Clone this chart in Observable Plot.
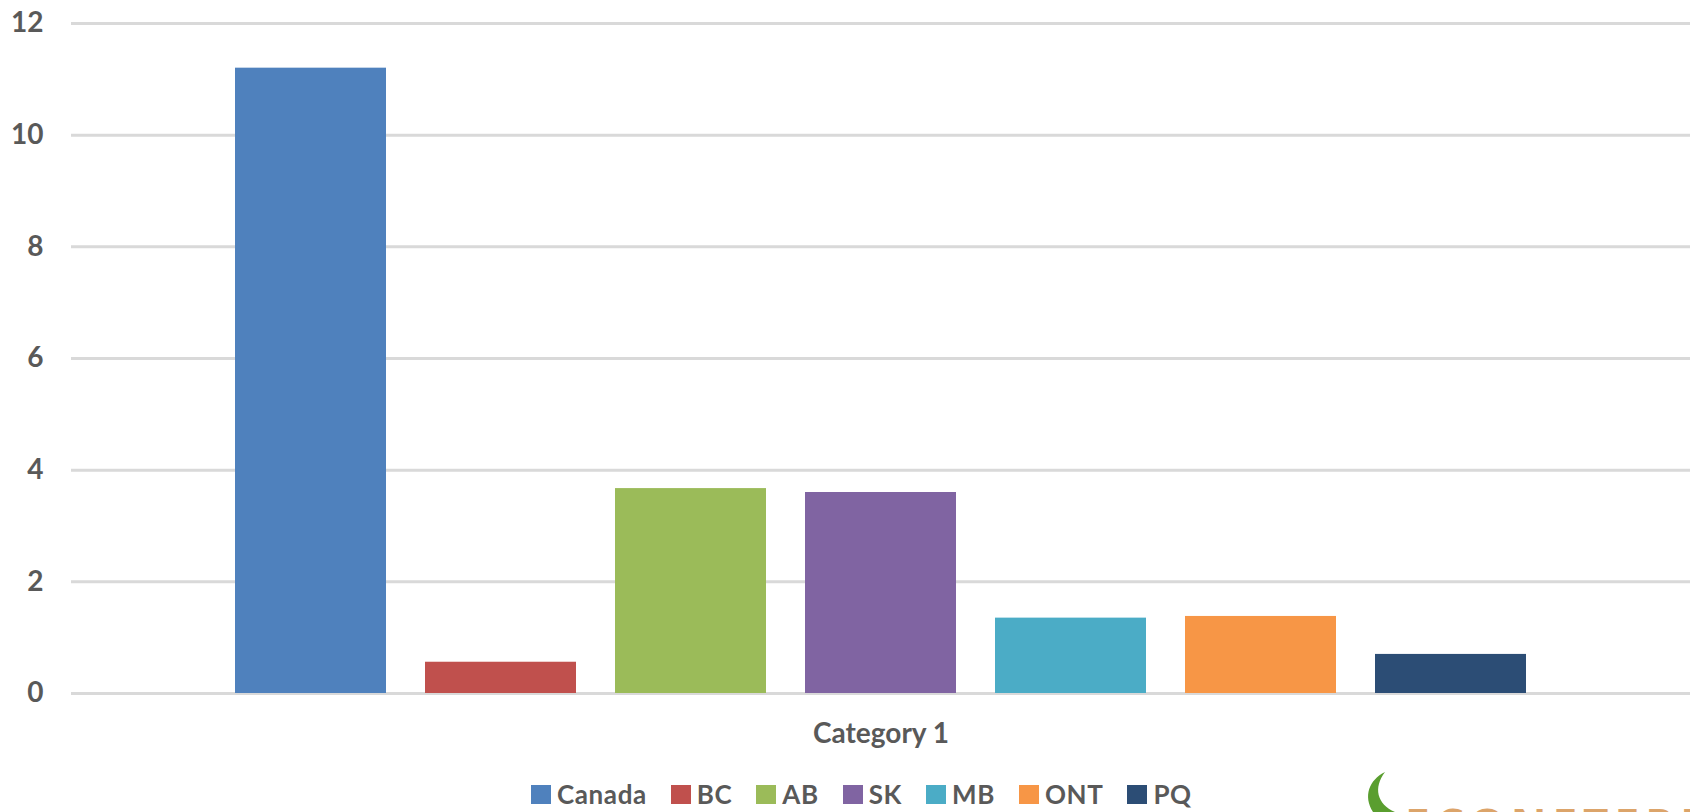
<!DOCTYPE html>
<html>
<head>
<meta charset="utf-8">
<script src="https://cdn.jsdelivr.net/npm/d3@7"></script>
<script src="https://cdn.jsdelivr.net/npm/@observablehq/plot@0.6"></script>
<style>
  html, body { margin: 0; padding: 0; background: #ffffff; width: 1690px; height: 812px; overflow: hidden; }
  #wrap { position: relative; width: 1690px; height: 812px; }
  #legend { position: absolute; left: 531px; top: 777px; display: flex; align-items: center; font-family: Lato, sans-serif; font-weight: bold; font-size: 26px; line-height: 34px; letter-spacing: 0.6px; color: #595959; }
  .item { display: flex; align-items: center; margin-right: 24px; }
  .sw { width: 20px; height: 19px; margin-right: 6px; }
  #logo { position: absolute; left: 1355px; top: 770px; }
  #logotext { position: absolute; left: 1405px; top: 802px; font-family: "Open Sans", sans-serif; font-weight: bold; font-size: 44px; line-height: 44px; color: #dca46a; letter-spacing: 6px; white-space: nowrap; }
</style>
</head>
<body>
<div id="wrap">
  <div id="chart"></div>
  <div id="legend"></div>
  <svg id="logo" width="60" height="42" viewBox="0 0 60 42">
    <path d="M30 2 C14 10 8 26 18 42 L40 42 C22 34 18 18 30 2 Z" fill="#5a9e2f"/>
  </svg>
  <div id="logotext">ECONETERRA</div>
</div>
<script>
const categories = ["Category 1"];
const series = ["Canada", "BC", "AB", "SK", "MB", "ONT", "PQ"];
const values = [11.2, 0.56, 3.67, 3.6, 1.35, 1.38, 0.7];
const colors = ["#4f81bd", "#c0504d", "#9bbb59", "#8064a2", "#4bacc6", "#f79646", "#2c4d75"];
const yTicks = [0, 2, 4, 6, 8, 10, 12];

const data = series.map((s, i) => ({category: categories[0], series: s, value: values[i]}));

const chart = Plot.plot({
  width: 1690,
  height: 770,
  marginLeft: 71,
  marginRight: 0,
  marginTop: 23,
  marginBottom: 77,
  style: "font-family: Lato, sans-serif; font-weight: bold; font-size: 28px; color: #595959; background: #ffffff; overflow: visible;",
  fx: {domain: categories, padding: 0, axis: "bottom", label: null, tickSize: 0, tickPadding: 30},
  x: {domain: series, padding: 0.205, insetLeft: 125, insetRight: 125, axis: null},
  y: {domain: [0, 12], ticks: yTicks, label: null, tickSize: 0, tickPadding: 28},
  color: {domain: series, range: colors},
  marks: [
    Plot.ruleY(yTicks, {stroke: "#d9d9d9", strokeWidth: 3}),
    Plot.barY(data, {fx: "category", x: "series", y: "value", fill: "series"})
  ]
});
document.getElementById("chart").appendChild(chart);

const legend = document.getElementById("legend");
series.forEach((s, i) => {
  const item = document.createElement("div");
  item.className = "item";
  const sw = document.createElement("div");
  sw.className = "sw";
  sw.style.background = colors[i];
  const label = document.createElement("span");
  label.textContent = s;
  item.appendChild(sw);
  item.appendChild(label);
  legend.appendChild(item);
});
</script>
</body>
</html>
